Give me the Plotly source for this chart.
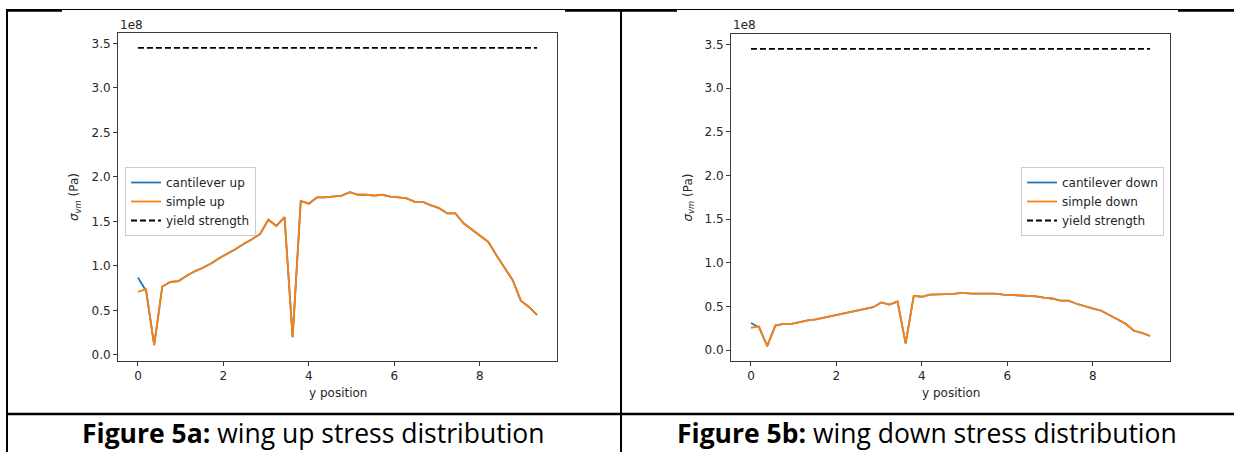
import plotly.graph_objects as go

W, H = 1234, 452

# ---------------- data (stress in units of 1e8 Pa) ----------------
y_position = [0.00, 0.19, 0.38, 0.57, 0.76, 0.95, 1.14, 1.33, 1.52, 1.72,
              1.91, 2.10, 2.29, 2.48, 2.67, 2.86, 3.05, 3.24, 3.43, 3.62,
              3.81, 4.00, 4.19, 4.38, 4.57, 4.77, 4.96, 5.15, 5.34, 5.53,
              5.72, 5.91, 6.10, 6.29, 6.48, 6.67, 6.86, 7.05, 7.24, 7.43,
              7.62, 7.81, 8.01, 8.20, 8.39, 8.58, 8.77, 8.96, 9.15, 9.34]

cantilever_up = [0.87, 0.72, 0.11, 0.77, 0.82, 0.83, 0.89, 0.94, 0.98, 1.03,
                 1.09, 1.14, 1.19, 1.25, 1.30, 1.36, 1.52, 1.45, 1.55, 0.20,
                 1.73, 1.70, 1.77, 1.77, 1.78, 1.79, 1.83, 1.80, 1.80, 1.79,
                 1.80, 1.78, 1.77, 1.76, 1.72, 1.72, 1.68, 1.65, 1.59, 1.59,
                 1.48, 1.41, 1.33, 1.27, 1.12, 0.98, 0.84, 0.61, 0.54, 0.45]

simple_up = [0.71, 0.74, 0.11, 0.77, 0.82, 0.83, 0.89, 0.94, 0.98, 1.03,
             1.09, 1.14, 1.19, 1.25, 1.30, 1.36, 1.52, 1.45, 1.55, 0.20,
             1.73, 1.70, 1.77, 1.77, 1.78, 1.79, 1.83, 1.80, 1.80, 1.79,
             1.80, 1.78, 1.77, 1.76, 1.72, 1.72, 1.68, 1.65, 1.59, 1.59,
             1.48, 1.41, 1.33, 1.27, 1.12, 0.98, 0.84, 0.61, 0.54, 0.45]

cantilever_down = [0.31, 0.26, 0.045, 0.28, 0.30, 0.30, 0.32, 0.34, 0.35, 0.37,
                   0.39, 0.41, 0.43, 0.45, 0.47, 0.49, 0.545, 0.52, 0.555, 0.075,
                   0.62, 0.61, 0.635, 0.635, 0.64, 0.645, 0.655, 0.645, 0.645, 0.64,
                   0.645, 0.635, 0.63, 0.625, 0.615, 0.615, 0.60, 0.59, 0.565, 0.565,
                   0.53, 0.50, 0.475, 0.45, 0.40, 0.35, 0.30, 0.22, 0.195, 0.16]

simple_down = [0.255, 0.27, 0.045, 0.28, 0.30, 0.30, 0.32, 0.34, 0.35, 0.37,
               0.39, 0.41, 0.43, 0.45, 0.47, 0.49, 0.545, 0.52, 0.555, 0.075,
               0.62, 0.61, 0.635, 0.635, 0.64, 0.645, 0.655, 0.645, 0.645, 0.64,
               0.645, 0.635, 0.63, 0.625, 0.615, 0.615, 0.60, 0.59, 0.565, 0.565,
               0.53, 0.50, 0.475, 0.45, 0.40, 0.35, 0.30, 0.22, 0.195, 0.16]

yield_x = [0.0, 9.34]
yield_strength = [3.45, 3.45]

y_ticks = [0.0, 0.5, 1.0, 1.5, 2.0, 2.5, 3.0, 3.5]
x_ticks = [0, 2, 4, 6, 8]

captions = ["<b>Figure 5a:</b> wing up stress distribution",
            "<b>Figure 5b:</b> wing down stress distribution"]

# ---------------- helpers ----------------
def px(x):
    return x / W


def py(y):
    return 1 - y / H


BLUE = "#1f77b4"
ORANGE = "#ff7f0e"
TXT = "#262626"
FONT = "DejaVu Sans"
FS = 12

fig = go.Figure()

panels = [
    dict(xa="x", ya="y", cant=cantilever_up, simp=simple_up,
         names=("cantilever up", "simple up"), legend="legend"),
    dict(xa="x2", ya="y2", cant=cantilever_down, simp=simple_down,
         names=("cantilever down", "simple down"), legend="legend2"),
]

for p in panels:
    fig.add_trace(go.Scatter(x=y_position, y=p["cant"], mode="lines",
                             name=p["names"][0], line=dict(color=BLUE, width=1.8),
                             xaxis=p["xa"], yaxis=p["ya"], legend=p["legend"]))
    fig.add_trace(go.Scatter(x=y_position, y=p["simp"], mode="lines",
                             name=p["names"][1], line=dict(color=ORANGE, width=1.8),
                             xaxis=p["xa"], yaxis=p["ya"], legend=p["legend"]))
    fig.add_trace(go.Scatter(x=yield_x, y=yield_strength, mode="lines",
                             name="yield strength",
                             line=dict(color="black", width=1.8, dash="6px,3px"),
                             xaxis=p["xa"], yaxis=p["ya"], legend=p["legend"]))

axis_common = dict(showgrid=False, zeroline=False, showline=True, mirror=True,
                   linecolor="#3a3a3a", linewidth=1, ticks="outside", ticklen=4,
                   tickwidth=1, tickcolor="#3a3a3a",
                   tickfont=dict(family=FONT, size=FS, color=TXT))

# pixel boxes of the axes
left_box = (118, 557, 33, 361)
right_box = (731, 1170, 34, 361)

legend_common = dict(xanchor="left", yanchor="top", bgcolor="white",
                     bordercolor="#cccccc", borderwidth=1, itemwidth=30,
                     font=dict(family=FONT, size=FS, color=TXT), tracegroupgap=0)

fig.update_layout(
    width=W, height=H, autosize=False,
    margin=dict(l=0, r=0, t=0, b=0),
    paper_bgcolor="white", plot_bgcolor="white",
    xaxis=dict(domain=[px(left_box[0]), px(left_box[1])], range=[-0.467, 9.807],
               tickvals=x_ticks, anchor="y", **axis_common),
    yaxis=dict(domain=[py(left_box[3]), py(left_box[2])], range=[-0.0675, 3.6175],
               tickvals=y_ticks, tickformat=".1f", anchor="x", **axis_common),
    xaxis2=dict(domain=[px(right_box[0]), px(right_box[1])], range=[-0.467, 9.807],
                tickvals=x_ticks, anchor="y2", **axis_common),
    yaxis2=dict(domain=[py(right_box[3]), py(right_box[2])], range=[-0.126, 3.62],
                tickvals=y_ticks, tickformat=".1f", anchor="x2", **axis_common),
    legend=dict(x=px(125), y=py(167), **legend_common),
    legend2=dict(x=px(1021), y=py(167), **legend_common),
    showlegend=True,
)

annotations = []
for box, cap, capx in [(left_box, captions[0], 313), (right_box, captions[1], 927)]:
    x0, x1, y0, y1 = box
    annotations.append(dict(text="1e8", x=px(x0), y=py(25), xref="paper", yref="paper",
                            xanchor="left", yanchor="middle", showarrow=False,
                            font=dict(family=FONT, size=FS, color=TXT)))
    annotations.append(dict(text="<i>σ</i><sub><i>vm</i></sub> (Pa)", x=px(x0 - 43),
                            y=py((y0 + y1) / 2), xref="paper", yref="paper",
                            xanchor="center", yanchor="middle", textangle=-90,
                            showarrow=False, font=dict(family=FONT, size=FS, color=TXT)))
    annotations.append(dict(text="y position", x=px((x0 + x1) / 2), y=py(393),
                            xref="paper", yref="paper", xanchor="center",
                            yanchor="middle", showarrow=False,
                            font=dict(family=FONT, size=FS, color=TXT)))
    annotations.append(dict(text=cap, x=px(capx), y=py(432.5), xref="paper", yref="paper",
                            xanchor="center", yanchor="middle", showarrow=False,
                            font=dict(family="Open Sans", size=26.5, color="black")))
fig.update_layout(annotations=annotations)

# table borders
shapes = []


def hline(x0, x1, y, w):
    shapes.append(dict(type="line", xref="paper", yref="paper", x0=px(x0), x1=px(x1),
                       y0=py(y), y1=py(y), line=dict(color="black", width=w)))


def vline(x, y0, y1, w):
    shapes.append(dict(type="line", xref="paper", yref="paper", x0=px(x), x1=px(x),
                       y0=py(y0), y1=py(y1), line=dict(color="black", width=w)))


hline(7, 1234, 9.5, 1.2)
hline(6, 62, 10.5, 2.5)
hline(565, 677, 10.5, 2.5)
hline(1178, 1234, 10.5, 2.5)
vline(7, 9, 452, 2)
vline(621, 9, 452, 2)
hline(6, 1234, 414, 2.5)
fig.update_layout(shapes=shapes)

fig.write_html("out.html")
